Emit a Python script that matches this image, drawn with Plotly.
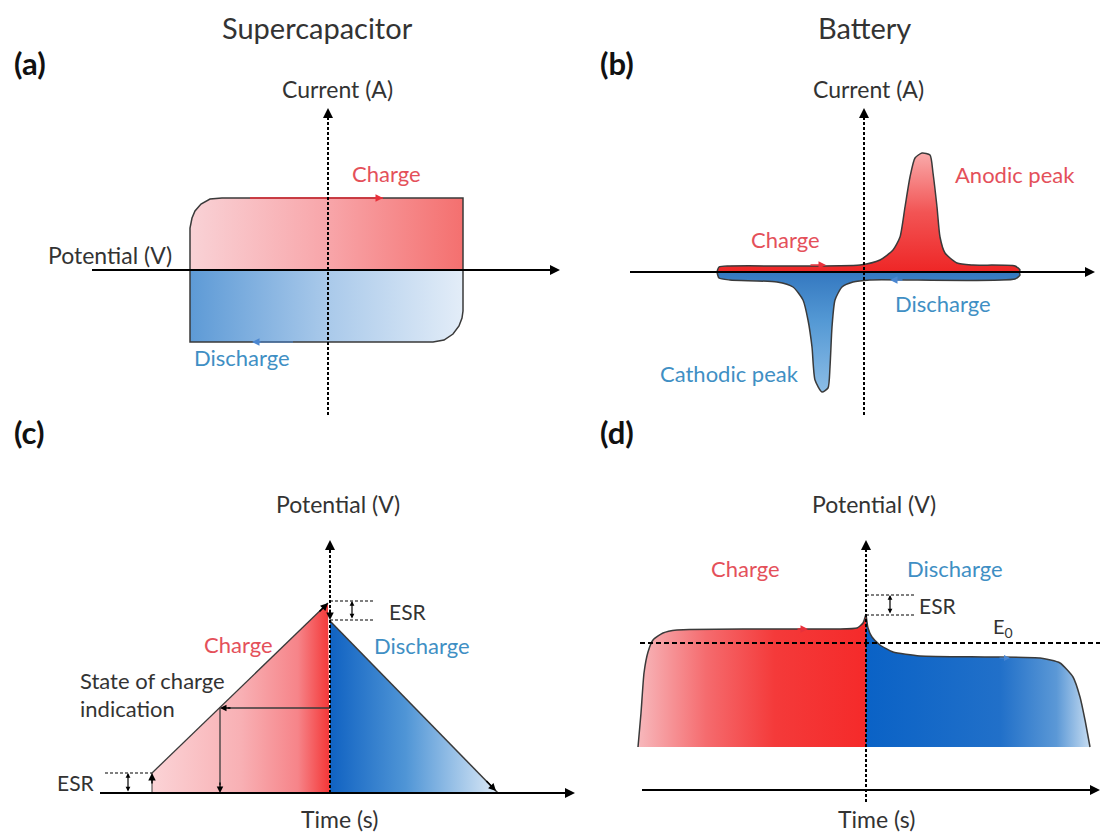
import plotly.graph_objects as go

W, H = 1102, 832
S = 100.0  # pixels per data unit

# ---------------- data (arbitrary units, origin at axis crossing) ----------------
# (a) Supercapacitor CV
a_charge_x = [-1.38, -1.38, -1.36, -1.33, -1.27, -1.18, -1.06, 1.35, 1.35]
a_charge_y = [0.0, 0.42, 0.52, 0.59, 0.66, 0.71, 0.72, 0.72, 0.0]
a_dis_x = [-1.38, -1.38, 1.05, 1.16, 1.25, 1.31, 1.34, 1.35, 1.35]
a_dis_y = [0.0, -0.72, -0.72, -0.70, -0.64, -0.56, -0.48, -0.41, 0.0]

# (b) Battery CV
b_anodic_x = [-1.47, -1.45, -1.34, -0.04, 0.16, 0.29, 0.36, 0.41, 0.46, 0.51, 0.58,
              0.66, 0.69, 0.73, 0.76, 0.81, 0.93, 1.09, 1.51, 1.56, 1.55]
b_anodic_y = [0.0, 0.05, 0.06, 0.07, 0.12, 0.22, 0.35, 0.65, 0.95, 1.14, 1.19,
              1.17, 0.99, 0.65, 0.35, 0.19, 0.09, 0.07, 0.06, 0.02, 0.0]
b_cathodic_x = [-1.47, -1.45, -1.34, -0.87, -0.71, -0.61, -0.56, -0.52, -0.49, -0.42,
                -0.36, -0.34, -0.32, -0.29, -0.22, -0.11, 0.06, 1.51, 1.56, 1.55]
b_cathodic_y = [0.0, -0.06, -0.08, -0.10, -0.15, -0.28, -0.48, -0.75, -1.08, -1.20,
                -1.16, -0.95, -0.55, -0.28, -0.15, -0.10, -0.08, -0.07, -0.03, 0.0]

# (c) Supercapacitor GCD
c_charge_x = [-1.78, -1.78, -0.02, 0.0]
c_charge_y = [0.0, 0.20, 1.90, 0.0]
c_dis_x = [0.0, 1.68, 0.0]
c_dis_y = [1.72, 0.0, 0.0]
c_soc_t, c_soc_v = -1.10, 0.85
c_esr_low, c_esr_top = (0.20, 1.92), (1.73,)

# (d) Battery GCD
d_charge_x = [-2.28, -2.25, -2.22, -2.18, -2.13, -2.03, -1.89, -1.13, -0.29, -0.09, -0.03, 0.0]
d_charge_y = [0.43, 0.77, 1.17, 1.38, 1.50, 1.57, 1.60, 1.61, 1.61, 1.62, 1.67, 1.76]
d_dis_x = [0.0, 0.02, 0.06, 0.14, 0.27, 0.54, 1.21, 1.74, 1.94, 2.07, 2.14, 2.19, 2.24]
d_dis_y = [1.76, 1.62, 1.53, 1.45, 1.38, 1.34, 1.33, 1.32, 1.27, 1.13, 0.93, 0.70, 0.43]
d_base = 0.43
d_e0 = 1.47
d_esr = (1.75, 1.95)

# ---------------- layout helpers ----------------
ORIG = {'a': (328, 270), 'b': (864, 272), 'c': (330, 793), 'd': (866, 790)}
AX = {'a': ('x', 'y'), 'b': ('x2', 'y2'), 'c': ('x3', 'y3'), 'd': ('x4', 'y4')}

RED_T = '#e4505a'
BLUE_T = '#3f8fc4'
DARK = '#3a3a3a'
FONT = 'Lato'

fig = go.Figure()
ann = []


def add(p, **kw):
    xr, yr = AX[p]
    fig.add_trace(go.Scatter(xaxis=xr, yaxis=yr, showlegend=False, hoverinfo='skip', **kw))


def arrow(p, x, y, ax, ay, color='black', width=1.6, head=2, size=1.0, side='end'):
    xr, yr = AX[p]
    ann.append(dict(x=x, y=y, ax=ax, ay=ay, xref=xr, yref=yr, axref=xr, ayref=yr,
                    text='', showarrow=True, arrowhead=head, arrowsize=size,
                    arrowwidth=width, arrowcolor=color, arrowside=side))


def text(px, py, s, size=22, color='#333333', xa='center', bold=False):
    ann.append(dict(x=px / W, y=1 - py / H, xref='paper', yref='paper', text=s,
                    showarrow=False, xanchor=xa, yanchor='middle',
                    font=dict(family=FONT, size=size, color=color,
                              weight='bold' if bold else 'normal')))


def line(p, xs, ys, color='black', width=2, dash='solid', shape='linear'):
    add(p, x=xs, y=ys, mode='lines', line=dict(color=color, width=width, dash=dash, shape=shape))


def grad(kind, stops):
    return dict(type=kind, colorscale=stops)


# ---------------- panel (a) ----------------
add('a', x=a_charge_x, y=a_charge_y, mode='lines', fill='toself',
    line=dict(color=DARK, width=1.5),
    fillgradient=grad('horizontal', [[0, '#f9d2d6'], [0.5, '#f8a6aa'], [1, '#f4706f']]))
add('a', x=a_dis_x, y=a_dis_y, mode='lines', fill='toself',
    line=dict(color=DARK, width=1.5),
    fillgradient=grad('horizontal', [[0, '#5d9ad6'], [0.5, '#a9c9ea'], [1, '#e3edf8']]))
line('a', [-0.78, 0.55], [0.72, 0.72], color='#e8303a', width=1.5)
arrow('a', 0.55, 0.72, 0.45, 0.72, color='#e8303a', width=1.5)
line('a', [-0.75, -0.35], [-0.72, -0.72], color='#4a86d0', width=1.2)
arrow('a', -0.76, -0.72, -0.66, -0.72, color='#4a86d0', width=1.5)
line('a', [-2.36, 2.27], [0, 0], width=2)
arrow('a', 2.32, 0, 2.22, 0, width=2)
line('a', [0, 0], [-1.45, 1.57], width=2, dash='3px,2px')
arrow('a', 0, 1.62, 0, 1.52, width=2)

# ---------------- panel (b) ----------------
add('b', x=b_anodic_x, y=b_anodic_y, mode='lines', fill='toself',
    line=dict(color=DARK, width=1.5, shape='spline', smoothing=0.6),
    fillgradient=grad('vertical', [[0, '#ee2626'], [0.5, '#f25454'], [1, '#f9aaaa']]))
add('b', x=b_cathodic_x, y=b_cathodic_y, mode='lines', fill='toself',
    line=dict(color=DARK, width=1.5, shape='spline', smoothing=0.6),
    fillgradient=grad('vertical', [[0, '#8cbde6'], [0.6, '#5398d4'], [1, '#3478c0']]))
arrow('b', -0.38, 0.07, -0.55, 0.07, color='#e8303a', width=1.5)
arrow('b', 0.26, -0.08, 0.40, -0.08, color='#4a86d0', width=1.5)
line('b', [-2.34, 2.26], [0, 0], width=2)
arrow('b', 2.31, 0, 2.21, 0, width=2)
line('b', [0, 0], [-1.43, 1.59], width=2, dash='3px,2px')
arrow('b', 0, 1.64, 0, 1.54, width=2)

# ---------------- panel (c) ----------------
add('c', x=c_charge_x, y=c_charge_y, mode='lines', fill='toself',
    line=dict(color='rgba(0,0,0,0)', width=0),
    fillgradient=grad('horizontal', [[0, '#fbd3d6'], [0.5, '#f8b0b4'], [0.82, '#f68489'],
                                     [1, '#f43636']]))
add('c', x=c_dis_x, y=c_dis_y, mode='lines', fill='toself',
    line=dict(color='rgba(0,0,0,0)', width=0),
    fillgradient=grad('horizontal', [[0, '#1062c2'], [0.45, '#4f95d6'], [1, '#dce9f6']]))
line('c', c_charge_x[1:3], c_charge_y[1:3], color=DARK, width=1.3)
line('c', c_charge_x[0:2], c_charge_y[0:2], color=DARK, width=1)
line('c', c_dis_x[0:2], c_dis_y[0:2], color=DARK, width=1.5)
arrow('c', 1.66, 0.02, 1.55, 0.135, width=1.5)
# SOC indication
line('c', [0, c_soc_t + 0.08], [c_soc_v, c_soc_v], color=DARK, width=1.3)
arrow('c', c_soc_t, c_soc_v, c_soc_t + 0.12, c_soc_v, width=1.3)
line('c', [c_soc_t, c_soc_t], [c_soc_v, 0.08], color=DARK, width=1.3)
arrow('c', c_soc_t, 0.0, c_soc_t, 0.12, width=1.3)
# ESR top
line('c', [0, 0.44], [c_esr_low[1], c_esr_low[1]], width=1.2, dash='3px,2px')
line('c', [0, 0.44], [c_esr_top[0], c_esr_top[0]], width=1.2, dash='3px,2px')
arrow('c', 0.22, c_esr_low[1], 0.22, c_esr_top[0], width=1.2, size=0.8, side='end+start')
arrow('c', -0.02, c_esr_low[1] - 0.02, -0.12, c_esr_low[1] - 0.12, width=1.5)
arrow('c', 0, c_esr_top[0], 0, c_esr_top[0] + 0.12, width=1.5)
# ESR bottom
line('c', [-2.25, -1.78], [c_esr_low[0], c_esr_low[0]], width=1.2, dash='3px,2px')
arrow('c', -2.02, c_esr_low[0], -2.02, 0.0, width=1.2, size=0.8, side='end+start')
arrow('c', -1.78, c_esr_low[0], -1.78, 0.08, width=1.5)
# axes
line('c', [-2.30, 2.40], [0, 0], width=2)
arrow('c', 2.45, 0, 2.35, 0, width=2)
line('c', [0, 0], [0, 2.48], width=2, dash='3px,2px')
arrow('c', 0, 2.53, 0, 2.43, width=2)

# ---------------- panel (d) ----------------
add('d', x=[d_charge_x[0], d_charge_x[-1]], y=[d_base, d_base], mode='lines',
    line=dict(width=0, color='rgba(0,0,0,0)'))
add('d', x=d_charge_x, y=d_charge_y, mode='lines', fill='tonexty',
    line=dict(color=DARK, width=1.5, shape='spline', smoothing=0.5),
    fillgradient=grad('horizontal', [[0, '#f7b8bc'], [0.3, '#f56b6e'], [0.6, '#f43a3a'],
                                     [1, '#f52a2a']]))
add('d', x=[d_dis_x[0], d_dis_x[-1]], y=[d_base, d_base], mode='lines',
    line=dict(width=0, color='rgba(0,0,0,0)'))
add('d', x=d_dis_x, y=d_dis_y, mode='lines', fill='tonexty',
    line=dict(color=DARK, width=1.5, shape='spline', smoothing=0.5),
    fillgradient=grad('horizontal', [[0, '#0a62c6'], [0.6, '#2170c9'], [0.85, '#5b98d6'],
                                     [1, '#c6dcf1']]))
arrow('d', -0.58, 1.61, -0.70, 1.61, color='#e8303a', width=1.5)
arrow('d', 1.44, 1.32, 1.32, 1.32, color='#4a86d0', width=1.2)
line('d', [-2.26, 2.34], [d_e0, d_e0], width=2, dash='5px,3px')
line('d', [0, 0.49], [d_esr[0], d_esr[0]], width=1.2, dash='3px,2px')
line('d', [0, 0.49], [d_esr[1], d_esr[1]], width=1.2, dash='3px,2px')
arrow('d', 0.24, d_esr[1], 0.24, d_esr[0], width=1.2, size=0.8, side='end+start')
line('d', [-2.24, 2.29], [0, 0], width=2)
arrow('d', 2.34, 0, 2.24, 0, width=2)
line('d', [0, 0], [-0.12, 2.45], width=2, dash='3px,2px')
arrow('d', 0, 2.50, 0, 2.40, width=2)

# ---------------- texts ----------------
text(317, 27, 'Supercapacitor', size=29)
text(864, 27, 'Battery', size=29)
text(12, 63, '(a)', size=31, xa='left', bold=True, color='#111111')
text(598, 63, '(b)', size=31, xa='left', bold=True, color='#111111')
text(12, 432, '(c)', size=31, xa='left', bold=True, color='#111111')
text(598, 432, '(d)', size=31, xa='left', bold=True, color='#111111')
text(337, 89, 'Current (A)', size=23)
text(868, 89, 'Current (A)', size=23)
text(174, 255, 'Potential (V)', size=23, xa='right')
text(386, 173, 'Charge', size=22, color=RED_T)
text(242, 357, 'Discharge', size=22, color=BLUE_T)
text(786, 240, 'Charge', size=22, color=RED_T)
text(1015, 175, 'Anodic peak', size=22, color=RED_T)
text(943, 303, 'Discharge', size=22, color=BLUE_T)
text(729, 373, 'Cathodic peak', size=22, color=BLUE_T)
text(338, 504, 'Potential (V)', size=23)
text(339, 819, 'Time (s)', size=23)
text(387, 611, 'ESR', size=21, xa='left')
text(97, 782, 'ESR', size=21, xa='right')
text(78, 680, 'State of charge', size=22, xa='left')
text(78, 708, 'indication', size=22, xa='left')
text(238, 644, 'Charge', size=22, color=RED_T)
text(422, 645, 'Discharge', size=22, color=BLUE_T)
text(874, 504, 'Potential (V)', size=23)
text(876, 819, 'Time (s)', size=23)
text(745, 568, 'Charge', size=22, color=RED_T)
text(955, 568, 'Discharge', size=22, color=BLUE_T)
text(917, 605, 'ESR', size=21, xa='left')
text(1003, 627, 'E<sub>0</sub>', size=20)

# ---------------- axes ----------------
layout = dict(width=W, height=H, autosize=False, margin=dict(l=0, r=0, t=0, b=0),
              paper_bgcolor='white', plot_bgcolor='rgba(0,0,0,0)', annotations=ann)
for i, p in enumerate(['a', 'b', 'c', 'd'], start=1):
    ox, oy = ORIG[p]
    sfx = '' if i == 1 else str(i)
    layout['xaxis' + sfx] = dict(domain=[0, 1], range=[-ox / S, (W - ox) / S], visible=False,
                                 anchor='y' + sfx, fixedrange=True)
    layout['yaxis' + sfx] = dict(domain=[0, 1], range=[(oy - H) / S, oy / S], visible=False,
                                 anchor='x' + sfx, fixedrange=True)
fig.update_layout(**layout)
fig.write_html('out.html', config={'displayModeBar': False},
               post_script="document.body.style.margin='0';document.body.style.overflow='hidden';")
